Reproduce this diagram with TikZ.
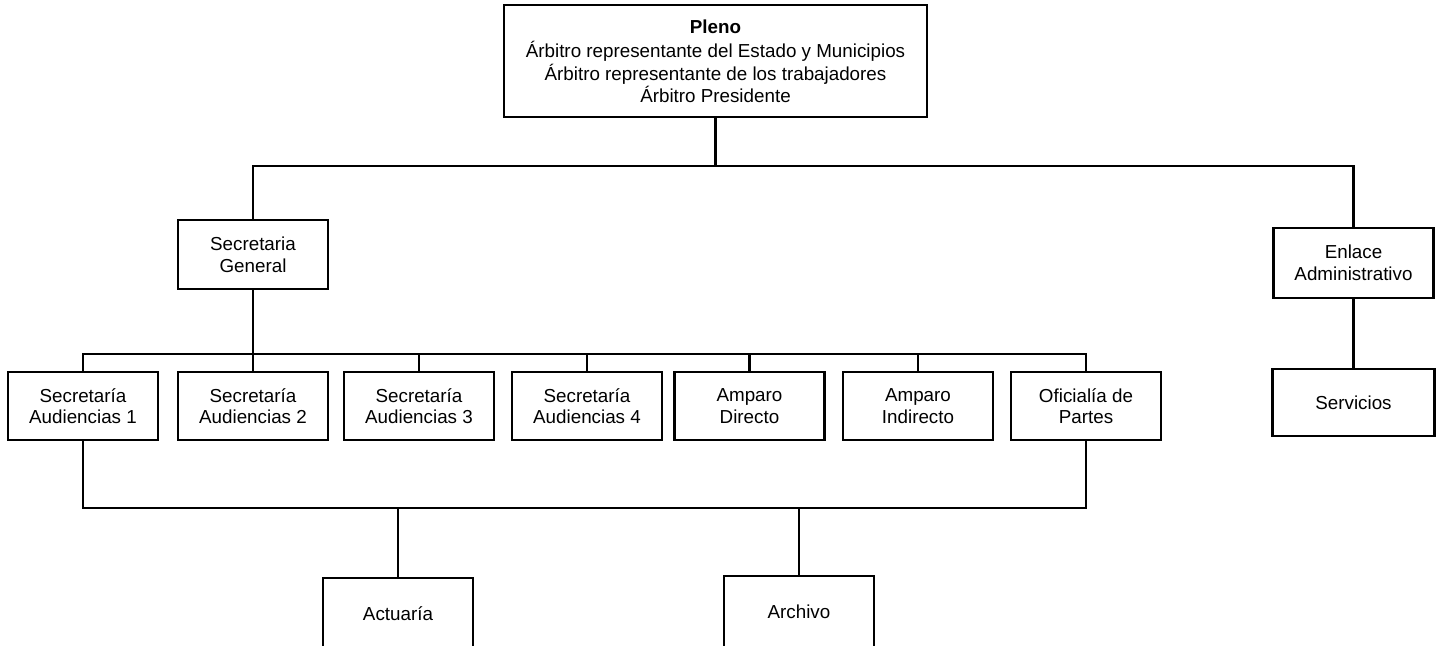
\documentclass[tikz,border=0pt]{standalone}
\usepackage{fontspec}
\setmainfont{Liberation Sans}
\usetikzlibrary{positioning}

\begin{document}
\begin{tikzpicture}[x=0.5pt,y=-0.5pt,line width=1.2pt,
  unit/.style={draw,rectangle,align=center,inner sep=2pt,
    minimum width=75pt,minimum height=34pt,
    font=\fontsize{9.4pt}{10.8pt}\selectfont}]

  \clip (0,0) rectangle (1437,646);

  % top
  \node[unit,minimum width=211.5pt,minimum height=56pt,
        font=\fontsize{9.4pt}{9.8pt}\selectfont] (pleno) at (715.5,61)
    {\textbf{Pleno}\\[2.5pt]Árbitro representante del Estado y Municipios\\
     Árbitro representante de los trabajadores\\Árbitro Presidente};

  % second level
  \node[unit,minimum height=34.5pt] (secgen) at (253,254.5) {Secretaria\\General};
  \node[unit,minimum width=80pt,minimum height=35pt] (enlace) at (1353.5,263)
    {Enlace\\Administrativo};
  \node[unit,minimum width=81pt,minimum height=33.5pt] (serv) at (1353.5,402.5) {Servicios};

  % third level
  \node[unit] (sa1)  at (83,406)    {Secretaría\\Audiencias 1};
  \node[unit] (sa2)  at (253,406)   {Secretaría\\Audiencias 2};
  \node[unit] (sa3)  at (419,406)   {Secretaría\\Audiencias 3};
  \node[unit] (sa4)  at (587,406)   {Secretaría\\Audiencias 4};
  \node[unit] (adir) at (749.5,406) {Amparo\\Directo};
  \node[unit] (aind) at (918,406)   {Amparo\\Indirecto};
  \node[unit] (ofp)  at (1086,406)  {Oficialía de\\Partes};

  % bottom
  \node[unit,minimum height=36pt] (act)  at (398,614) {Actuaría};
  \node[unit,minimum height=36pt] (arch) at (799,612) {Archivo};

  \coordinate (j1) at (715.5,166);
  \coordinate (j2) at (253,354);
  \coordinate (j3) at (598,508);

  \draw (pleno) -- (j1);
  \draw (secgen.north) |- (j1) -| (enlace.north);
  \draw (enlace) -- (serv);

  \draw (secgen) -- (j2);
  \draw (sa1.north) |- (j2) -| (ofp.north);
  \foreach \n in {sa2,sa3,sa4,adir,aind}
    \draw (\n.north) -- (\n.north |- j2);

  \draw (sa1.south) |- (j3) -| (ofp.south);
  \draw (act.north) -- (act.north |- j3);
  \draw (arch.north) -- (arch.north |- j3);
\end{tikzpicture}
\end{document}
